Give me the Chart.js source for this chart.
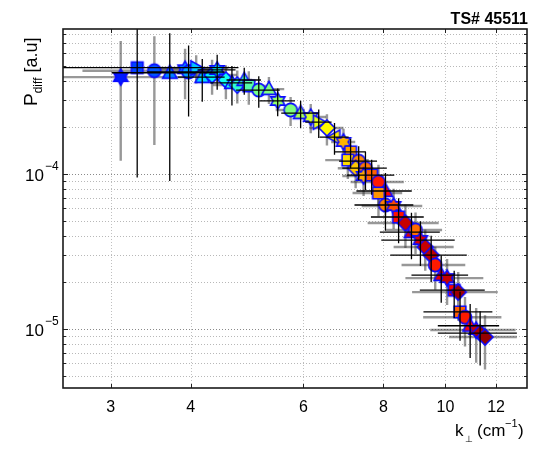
<!DOCTYPE html>
<html><head><meta charset="utf-8">
<script src="https://cdn.jsdelivr.net/npm/chart.js@4.4.1/dist/chart.umd.min.js"></script>
<style>html,body{margin:0;padding:0;background:#fff}canvas{display:block}</style>
</head><body>
<canvas id="c" width="535" height="450"></canvas>
<script>
// ---- data ----
const kPerp = [3.11,3.30,3.51,3.71,3.92,3.97,4.08,4.17,4.32,4.40,
  4.54,4.64,4.73,4.85,4.93,5.11,5.30,5.47,5.73,5.94,
  6.16,6.34,6.53,6.71,6.93,7.11,7.04,7.32,7.24,7.50,
  7.45,7.67,7.86,8.06,7.86,8.06,8.30,8.45,8.66,8.85,
  8.98,9.14,9.30,9.50,9.64,9.85,10.06,10.32,10.47,10.54,
  10.73,10.93,11.17,11.33,11.53];
const pDiff = [4.22e-4,4.85e-4,4.64e-4,4.50e-4,4.74e-4,4.55e-4,4.83e-4,4.22e-4,4.35e-4,4.69e-4,
  4.04e-4,3.87e-4,3.75e-4,4.04e-4,3.70e-4,3.48e-4,3.53e-4,2.96e-4,2.59e-4,2.47e-4,
  2.33e-4,2.16e-4,1.98e-4,1.73e-4,1.61e-4,1.39e-4,1.23e-4,1.21e-4,1.09e-4,1.09e-4,
  9.71e-5,9.85e-5,8.88e-5,7.77e-5,7.54e-5,6.31e-5,6.22e-5,5.28e-5,4.83e-5,4.22e-5,
  4.35e-5,3.75e-5,3.38e-5,3.00e-5,2.59e-5,2.23e-5,2.13e-5,1.78e-5,1.73e-5,1.29e-5,
  1.19e-5,1.05e-5,9.85e-6,9.42e-6,8.88e-6];
const kErr = [0.90,1.45,0.80,0.70,0.45,0.55,0.50,0.35,0.40,0.30,
  0.45,0.35,0.40,0.30,0.35,0.40,0.30,0.35,0.30,0.40,
  0.35,0.30,0.40,0.35,0.30,0.40,0.55,0.50,0.45,0.60,
  0.55,0.65,0.75,0.80,0.70,0.85,0.90,0.80,1.10,0.95,
  0.90,1.20,1.00,1.30,1.10,1.00,1.40,1.20,1.60,1.30,
  1.50,1.20,1.70,1.60,1.40];
const pErr = [3.0e-4,3.9e-4,3.1e-4,3.6e-4,1.7e-4,2.2e-4,1.0e-4,1.3e-4,1.1e-4,1.2e-4,
  1.0e-4,1.1e-4,0.9e-4,0.8e-4,0.9e-4,0.8e-4,0.7e-4,0.6e-4,0.55e-4,0.5e-4,
  0.5e-4,0.45e-4,0.45e-4,0.4e-4,0.35e-4,0.3e-4,0.3e-4,0.3e-4,0.28e-4,0.3e-4,
  2.5e-5,2.5e-5,2.6e-5,2.4e-5,2.2e-5,2.0e-5,1.8e-5,1.7e-5,1.5e-5,1.4e-5,
  1.3e-5,1.2e-5,1.0e-5,1.0e-5,0.8e-5,0.75e-5,0.7e-5,0.6e-5,0.6e-5,0.45e-5,
  0.42e-5,0.4e-5,0.38e-5,0.36e-5,0.34e-5];
const markers = ['hex','square','circle','triUp','hex','circle','triRight','triUp','diamond','hex',
  'diamond','triUp','diamond','triUp','square','circle','triUp','hex','circle','triUp',
  'hex','triRight','diamond','triLeft','hex','square','square','circle','diamond','circle',
  'hex','square','circle','triUp','square','circle','hex','square','diamond','triUp',
  'circle','hex','diamond','diamond','circle','triUp','hex','square','diamond','square',
  'circle','triUp','hex','diamond','diamond'];
const colorLevel = [0.15,0.19,0.21,0.25,0.27,0.28,0.32,0.34,0.36,0.37,
  0.39,0.41,0.42,0.44,0.46,0.49,0.50,0.52,0.50,0.54,
  0.58,0.60,0.63,0.64,0.70,0.72,0.66,0.74,0.68,0.76,
  0.71,0.78,0.85,0.87,0.73,0.75,0.80,0.86,0.93,0.90,
  0.77,0.91,0.93,0.94,0.85,0.90,0.93,0.88,0.97,0.78,
  0.85,0.87,0.93,0.96,0.98];
const xTicks = [3,4,6,8,10,12];
const yDecades = [1e-5,1e-4];
const yGrid = [5e-6,6e-6,7e-6,8e-6,9e-6,1e-5,2e-5,3e-5,4e-5,5e-5,6e-5,7e-5,8e-5,9e-5,
  1e-4,2e-4,3e-4,4e-4,5e-4,6e-4,7e-4,8e-4];
const titleText = 'TS# 45511';

// ---- styling helpers ----
function jet(t){
  const c = v => Math.round(255*Math.max(0,Math.min(1,v)));
  return `rgb(${c(1.5-Math.abs(4*t-3))},${c(1.5-Math.abs(4*t-2))},${c(1.5-Math.abs(4*t-1))})`;
}
function makeMarker(shape, fill){
  const S = 22, cv = document.createElement('canvas');
  cv.width = S; cv.height = S;
  const g = cv.getContext('2d'); const c = S/2;
  g.beginPath();
  if (shape==='circle'){ g.arc(c,c,6.6,0,Math.PI*2); }
  else if (shape==='square'){ g.rect(c-5.8,c-5.8,11.6,11.6); }
  else if (shape==='diamond'){ g.moveTo(c,c-8); g.lineTo(c+8,c); g.lineTo(c,c+8); g.lineTo(c-8,c); g.closePath(); }
  else if (shape==='triUp'){ g.moveTo(c,c-7.6); g.lineTo(c+7.2,c+5.4); g.lineTo(c-7.2,c+5.4); g.closePath(); }
  else if (shape==='triRight'){ g.moveTo(c+7.6,c); g.lineTo(c-5.4,c+7.2); g.lineTo(c-5.4,c-7.2); g.closePath(); }
  else if (shape==='triLeft'){ g.moveTo(c-7.6,c); g.lineTo(c+5.4,c+7.2); g.lineTo(c+5.4,c-7.2); g.closePath(); }
  else { // hexagram
    const R = 8.2, r = R/Math.sqrt(3);
    for (let j=0;j<12;j++){
      const a = -Math.PI/2 + j*Math.PI/6, rr = j%2===0 ? R : r;
      const px = c + rr*Math.cos(a), py = c + rr*Math.sin(a);
      j===0 ? g.moveTo(px,py) : g.lineTo(px,py);
    }
    g.closePath();
  }
  g.fillStyle = fill; g.fill();
  g.lineWidth = 1.6; g.strokeStyle = '#0a0aff'; g.stroke();
  return cv;
}

function drawBars(chart, wantBlack){
  const {ctx, chartArea:a, scales:{x,y}} = chart;
  ctx.save();
  ctx.beginPath(); ctx.rect(a.left,a.top,a.right-a.left,a.bottom-a.top); ctx.clip();
  kPerp.forEach((k,i)=>{
    const black = i%2===1;
    if (black!==wantBlack) return;
    const p = pDiff[i];
    ctx.strokeStyle = black ? '#000' : 'rgba(50,50,50,0.5)';
    ctx.lineWidth = black ? 1.3 : 2.4;
    const px = x.getPixelForValue(k), py = y.getPixelForValue(p);
    const x0 = x.getPixelForValue(k-kErr[i]), x1 = x.getPixelForValue(k+kErr[i]);
    const y0 = y.getPixelForValue(p-pErr[i]), y1 = y.getPixelForValue(p+pErr[i]);
    ctx.beginPath();
    ctx.moveTo(x0,py); ctx.lineTo(x1,py);
    ctx.moveTo(px,y0); ctx.lineTo(px,y1);
    ctx.stroke();
  });
  ctx.restore();
}

const frame = {
  id:'frame',
  beforeDatasetsDraw(chart){
    const {ctx, chartArea:a, scales:{x,y}} = chart;
    ctx.save();
    ctx.lineWidth = 1; ctx.setLineDash([1,2]);
    yGrid.forEach(v=>{
      const py = Math.round(y.getPixelForValue(v))+0.5;
      ctx.strokeStyle = yDecades.includes(v) ? '#8a8a8a' : '#b8b8b8';
      ctx.beginPath(); ctx.moveTo(a.left,py); ctx.lineTo(a.right,py); ctx.stroke();
    });
    xTicks.forEach(v=>{
      const px = Math.round(x.getPixelForValue(v))+0.5;
      ctx.strokeStyle = '#c0c0c0';
      ctx.beginPath(); ctx.moveTo(px,a.top); ctx.lineTo(px,a.bottom); ctx.stroke();
    });
    ctx.restore();
    drawBars(chart,false);
  },
  afterDatasetsDraw(chart){
    drawBars(chart,true);
    const {ctx, chartArea:a, scales:{x,y}} = chart;
    ctx.save();
    // tick marks
    ctx.strokeStyle = '#222'; ctx.lineWidth = 1;
    xTicks.forEach(v=>{
      const px = Math.round(x.getPixelForValue(v))+0.5;
      ctx.beginPath(); ctx.moveTo(px,a.bottom); ctx.lineTo(px,a.bottom-4);
      ctx.moveTo(px,a.top); ctx.lineTo(px,a.top+4); ctx.stroke();
    });
    yGrid.forEach(v=>{
      const py = Math.round(y.getPixelForValue(v))+0.5;
      const L = yDecades.includes(v) ? 5 : 3;
      ctx.beginPath(); ctx.moveTo(a.left,py); ctx.lineTo(a.left+L,py);
      ctx.moveTo(a.right,py); ctx.lineTo(a.right-L,py); ctx.stroke();
    });
    // box
    ctx.lineWidth = 1.6; ctx.strokeStyle = '#1a1a1a';
    ctx.strokeRect(a.left,a.top,a.right-a.left,a.bottom-a.top);
    // x tick labels
    ctx.fillStyle = '#000';
    ctx.font = '16px "Liberation Sans", Arial, sans-serif';
    ctx.textAlign = 'center'; ctx.textBaseline = 'alphabetic';
    xTicks.forEach(v=>{ ctx.fillText(String(v), x.getPixelForValue(v), 412); });
    // y tick labels 10^n
    yDecades.forEach(v=>{
      const py = y.getPixelForValue(v);
      ctx.font = '17px "Liberation Sans", Arial, sans-serif';
      ctx.textAlign = 'right'; ctx.fillText('10', 44, py+7);
      ctx.font = '12px "Liberation Sans", Arial, sans-serif';
      ctx.textAlign = 'left'; ctx.fillText('\u2212' + Math.round(-Math.log10(v)), 45, py-4);
    });
    // title
    ctx.font = 'bold 16px "Liberation Sans", Arial, sans-serif';
    ctx.textAlign = 'right'; ctx.fillText(titleText, 528, 24);
    // x label
    ctx.textAlign = 'left';
    ctx.font = '17px "Liberation Sans", Arial, sans-serif';
    ctx.fillText('k', 455, 436);
    ctx.font = '9px "DejaVu Sans", sans-serif';
    ctx.fillText('\u22A5', 465, 442);
    ctx.font = '17px "Liberation Sans", Arial, sans-serif';
    ctx.fillText('(cm', 477, 436);
    ctx.font = '11px "Liberation Sans", Arial, sans-serif';
    ctx.fillText('\u22121', 505, 427);
    ctx.font = '17px "Liberation Sans", Arial, sans-serif';
    ctx.fillText(')', 518, 436);
    // y label
    ctx.save();
    ctx.translate(37, 106); ctx.rotate(-Math.PI/2);
    ctx.font = '19px "Liberation Sans", Arial, sans-serif';
    ctx.fillText('P', 0, 0);
    let w = ctx.measureText('P').width;
    ctx.font = '12px "Liberation Sans", Arial, sans-serif';
    ctx.fillText('diff', w, 5);
    w += ctx.measureText('diff').width;
    ctx.font = '18px "Liberation Sans", Arial, sans-serif';
    ctx.fillText(' [a.u]', w, 0);
    ctx.restore();
    ctx.restore();
  }
};

const pts = kPerp.map((k,i)=>({x:k, y:pDiff[i]}));
const styles = markers.map((m,i)=>makeMarker(m, jet(colorLevel[i])));

new Chart(document.getElementById('c'), {
  type:'scatter',
  data:{ datasets:[{ data: pts, pointStyle: styles, pointRadius: 7, showLine:false }] },
  options:{
    responsive:false, animation:false,
    layout:{ padding:{ left:63, right:6, top:29, bottom:62 } },
    plugins:{ legend:{display:false}, tooltip:{enabled:false} },
    scales:{
      x:{ type:'logarithmic', min:2.527, max:13.41, display:false },
      y:{ type:'logarithmic', min:4.164e-6, max:8.62e-4, display:false }
    }
  },
  plugins:[frame]
});
</script>
</body></html>
